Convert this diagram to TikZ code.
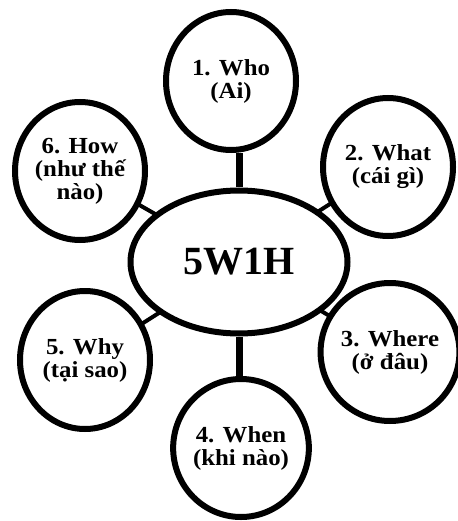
\documentclass[tikz,border=0pt]{standalone}
\usepackage{fontspec}
\setmainfont{Liberation Serif}
\newfontfamily\circfont[FakeStretch=1.08]{Liberation Serif}
\usetikzlibrary{shapes.geometric}
\begin{document}
\begin{tikzpicture}[x=1pt,y=-1pt,
  item/.style={ellipse,draw=black,line width=6pt,fill=white,inner sep=0pt,
    minimum width=130pt,minimum height=138pt,align=center,
    font=\circfont\bfseries\fontsize{23}{23}\selectfont},
  hub/.style={ellipse,draw=black,line width=6pt,fill=white,inner sep=0pt,
    minimum width=217pt,minimum height=143pt,
    font=\bfseries\fontsize{40}{40}\selectfont},
  link/.style={draw=black,line width=7pt},
  stub/.style={draw=black,line width=4pt}]
\useasboundingbox (0,0) rectangle (457,521);
\fill[white] (0,0) rectangle (457,521);
% coordinates only for stubs (drawn first, covered by fills)
\coordinate (cc) at (239,262);
\coordinate (c6) at (80,171);
\coordinate (c2) at (388,167);
\coordinate (c3) at (390,352);
\coordinate (c5) at (85,360);
\draw[stub] (cc) -- (c6);
\draw[stub] (cc) -- (c2);
\draw[stub] (cc) -- (c3);
\draw[stub] (cc) -- (c5);
\node[hub] (c) at (cc) {5W1H};
\node[item] (who) at (231,81) {1. Who\\(Ai)};
\node[item] (what) at (c2) {2. What\\(cái gì)};
\node[item] (where) at (c3) {3. Where\\(ở đâu)};
\node[item] (when) at (241,448) {4. When\\(khi nào)};
\node[item] (why) at (c5) {5. Why\\(tại sao)};
\node[item] (how) at (c6) {6. How\\(như thế\\nào)};
\draw[link] (c.north) -- (c.north |- who.south);
\draw[link] (c.south) -- (c.south |- when.north);
\end{tikzpicture}
\end{document}
